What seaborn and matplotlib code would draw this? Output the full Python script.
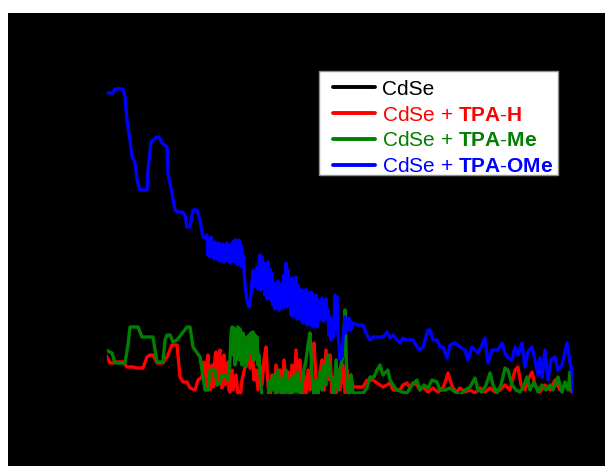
import matplotlib
matplotlib.use("Agg")
import matplotlib.pyplot as plt
from matplotlib.patches import Rectangle
import seaborn as sns
import pandas as pd

# ---------------- data (arbitrary units) ----------------
labels = ["CdSe",
          r"CdSe + $\mathbf{TPA}$-$\mathbf{H}$",
          r"CdSe + $\mathbf{TPA}$-$\mathbf{Me}$",
          r"CdSe + $\mathbf{TPA}$-$\mathbf{OMe}$"]
colors = ["#000000", "#ff0000", "#008000", "#0000ff"]

cdse_x = [0, 50, 100, 150, 200, 250, 300, 350, 400, 466]
cdse_y = [30, 25, 15, 10, 8, 6, 5, 4, 3, 3]

blue_pts = [(0,302),(7,302),(9,306),(17,306),(19,298),(21,275),(24,255),(26,238),(29,233),(31,215),(34,205),(41,205),(42,225),(45,253),(47,255),(51,258),(53,258),(56,252),(61,248),(62,222),(66,202),(69,185),(72,183),(76,183),(79,180),(81,168),(84,168),(87,185),(91,185),(94,175),(97,158),(99,157),
            (101,160),(102,140),(103,155),(104,138),(105,158),(106,140),(107,152),(108,136),(109,153),(110,137),(111,150),(112,135),(113,152),(114,134),(115,149),(116,136),(117,151),(118,133),(119,148),(120,135),(121,152),(122,134),(123,150),(124,132),(125,150),(126,134),(127,153),(128,133),(129,155),(130,135),(131,154),(132,130),(133,155),(134,132),(135,150),(136,128),(137,140),
            (139,110),(141,95),(143,88),(145,100),
            (147,125),(148,108),(149,122),(150,110),(151,128),(152,106),(153,130),(154,140),(155,105),(156,138),(157,108),
            (158,132),(159,100),(160,128),(161,96),(162,133),(163,98),(164,126),(165,95),(166,122),
            (167,90),(168,112),(169,86),(170,110),(171,88),(172,114),(173,85),(174,108),(175,90),(176,112),(177,87),
            (178,120),(179,90),(180,132),(181,88),(182,125),(183,92),(184,110),
            (185,80),(186,117),(187,78),(188,112),(189,82),(190,118),(191,76),(192,110),(193,80),(194,105),
            (195,75),(196,105),(197,72),(198,100),(199,74),(200,106),(201,70),(202,98),(203,73),(204,103),
            (205,70),(206,102),(207,68),(208,98),(209,70),(210,100),(211,68),
            (212,95),(213,75),(214,93),(215,78),(216,97),(217,74),(218,92),(219,76),(220,96),(221,75),
            (222,85),(223,60),(224,78),(225,55),(226,75),(227,58),
            (228,70),(229,100),(230,65),(231,98),(232,60),
            (233,50),(234,35),(235,48),(236,38),(237,55),
            (238,65),(239,78),(240,62),(241,75),(242,66),(243,77),(244,65),(245,73),(246,67),(247,72),
            (251,70),(257,70),(261,60),(264,55),(267,58),(271,58),(277,58),(281,63),(284,57),(287,60),(291,55),(294,52),(297,57),(301,55),(307,55),(311,48),(314,45),(317,48),(322,65),(324,65),(327,55),(331,55),(334,48),(337,48),(341,37),(344,50),(349,52),(354,48),(359,45),(362,35),(366,48),(372,42),(376,50),(379,57),(382,32),(386,45),(392,45),(396,52),(399,42),(402,37),(406,35),(409,48),(412,40),(416,52),(419,28),(422,43),(426,48),(429,35),(432,20),(434,37),(436,18),(439,45),(442,15),(445,35),(449,38),(452,25),(456,30),(459,43),(461,52),(464,32),(466,25),(468,-5)]
blue_x = [p[0] for p in blue_pts]
blue_y = [p[1] for p in blue_pts]

red_pts = [(0,40),(4,32),(7,32),(11,33),(17,33),(21,28),(27,28),(31,27),(37,27),(41,38),(44,40),(47,40),(51,32),(57,32),(61,38),(66,50),(71,50),(74,18),(77,13),(81,13),(84,7),(89,5),(92,15),(96,18),(98,33),(100,8),(101,30),(102,40),(103,10),(104,5),(105,25),(106,30),(107,8),(108,12),(109,38),(110,43),(111,10),(112,17),(113,40),(114,45),(115,12),(116,7),(117,35),(118,40),(119,10),(120,15),(121,30),(122,33),(123,5),(124,3),(125,22),(126,25),(127,5),(128,10),(130,20),(132,0),(134,-5),(136,15),(138,23),(140,35),(142,58),(144,27),(146,50),(148,15),(150,25),(152,5),(154,30),(156,10),(158,35),(160,48),(162,10),(164,-5),(166,20),(168,5),(170,30),(172,3),(174,25),(176,0),(178,35),(180,10),(182,23),(184,0),(186,30),(188,5),(190,45),(192,10),(194,35),(196,0),(198,20),(200,0),(202,25),(204,5),(206,40),(208,52),(210,15),(212,0),(214,23),(216,35),(218,5),(220,45),(222,15),(224,40),(226,2),(228,18),(230,0),(232,18),(234,5),(237,30),(239,2),(241,25),(243,10),(245,20),(247,8),(252,8),(257,8),(261,15),(267,15),(271,12),(277,8),(281,10),(284,12),(287,5),(294,5),(297,10),(301,12),(304,7),(307,12),(311,10),(314,5),(317,8),(322,3),(327,7),(332,3),(337,7),(340,15),(342,22),(344,15),(347,7),(351,3),(354,7),(359,3),(364,5),(369,2),(374,7),(379,3),(384,7),(389,3),(394,5),(399,10),(404,5),(409,25),(412,28),(415,10),(419,5),(423,17),(426,23),(429,10),(434,3),(439,10),(444,5),(449,15),(454,5),(459,10),(464,7),(466,3)]
red_x = [p[0] for p in red_pts]
red_y = [p[1] for p in red_pts]

green_pts = [(0,45),(6,42),(9,32),(19,32),(22,50),(24,68),(32,68),(36,58),(47,58),(51,33),(57,33),(59,55),(61,60),(64,60),(67,53),(71,55),(81,68),(84,68),(87,48),(94,38),(99,5),(102,5),(104,25),(109,25),(111,10),(114,12),(116,20),(119,20),(122,15),
             (124,35),(125,60),(126,68),(127,40),(128,67),(129,30),(130,65),(131,45),(132,68),(133,35),(134,66),(135,50),(136,30),(137,62),(138,40),(139,58),(140,28),(141,55),(142,35),(143,60),(144,42),(145,62),(146,45),(147,63),(148,35),(149,60),(150,45),(151,58),(152,30),(153,40),(154,20),
             (156,-2),(162,-2),(164,15),(166,5),(168,20),(170,-2),(172,25),(174,3),(176,17),(178,-2),(180,25),(182,2),(184,15),(186,-2),(188,20),(190,3),(192,23),(194,-2),(196,10),(198,25),(200,35),(202,50),(204,62),(206,20),(208,-2),(210,15),(212,0),(214,23),(216,5),(218,30),(220,10),(222,40),(224,20),(226,15),(228,0),(230,35),(232,5),(234,25),(237,40),(239,85),(241,10),(243,-2),(245,20),(247,2),(252,2),(257,2),(261,7),(264,18),(268,18),(271,25),(274,30),(277,20),(280,23),(282,25),(284,15),(287,10),(291,5),(296,3),(301,2),(306,10),(311,15),(314,5),(318,10),(322,7),(326,15),(331,13),(334,5),(339,5),(344,7),(349,3),(354,0),(359,5),(364,8),(369,17),(372,5),(376,3),(380,10),(384,22),(387,10),(391,2),(395,10),(399,27),(402,25),(406,10),(410,5),(414,3),(418,10),(421,18),(424,5),(428,13),(432,3),(436,10),(440,5),(444,10),(447,5),(452,18),(456,3),(459,13),(462,5),(464,23),(466,5)]
green_x = [p[0] for p in green_pts]
green_y = [p[1] for p in green_pts]

series = [(cdse_x, cdse_y), (red_x, red_y), (green_x, green_y), (blue_x, blue_y)]

# ---------------- style ----------------
sns.set_theme(style="white")
plt.rcParams["font.family"] = ["Liberation Sans", "DejaVu Sans"]
plt.rcParams["mathtext.fontset"] = "custom"
plt.rcParams["mathtext.rm"] = "Liberation Sans"
plt.rcParams["mathtext.bf"] = "Liberation Sans:bold"

W, H = 605, 466
fig = plt.figure(figsize=(W / 100, H / 100), dpi=100, facecolor="black")
# white margins at top and left
fig.patches.append(Rectangle((0, 1 - 13 / H), 1, 13 / H, transform=fig.transFigure,
                             facecolor="white", edgecolor="none", zorder=-1))
fig.patches.append(Rectangle((0, 0), 8 / W, 1, transform=fig.transFigure,
                             facecolor="white", edgecolor="none", zorder=-1))

ax = fig.add_axes([106 / W, 71 / H, 468 / W, 355 / H])
ax.set_facecolor("black")

for (xs, ys), lab, col in zip(series, labels, colors):
    df = pd.DataFrame({"x": xs, "y": ys})
    sns.lineplot(data=df, x="x", y="y", ax=ax, color=col, lw=2.4,
                 label=lab, estimator=None, sort=False)

ax.set_xlim(0, 468)
ax.set_ylim(0, 355)
for s in ax.spines.values():
    s.set_color("black")
ax.tick_params(colors="black")
ax.set_xlabel("")
ax.set_ylabel("")

# legend box (frame drawn separately so it hugs the rows)
frame = Rectangle((319 / W, 1 - 175 / H), 239 / W, 104 / H, transform=fig.transFigure,
                  facecolor="white", edgecolor="#909090", lw=1.0, clip_on=False, zorder=4.5)
ax.add_patch(frame)

leg = ax.legend(loc="upper left", bbox_to_anchor=(324 / W, 1 - 71 / H),
                bbox_transform=fig.transFigure, borderaxespad=0, fontsize=15,
                frameon=False, handlelength=2.05, handletextpad=0.33,
                labelspacing=0.33, borderpad=0.42)
leg.set_zorder(5)
for t, col in zip(leg.get_texts(), colors):
    t.set_color(col)
for h in leg.get_lines():
    h.set_linewidth(2.8)

fig.savefig("out.png", dpi=100, facecolor=fig.get_facecolor())
